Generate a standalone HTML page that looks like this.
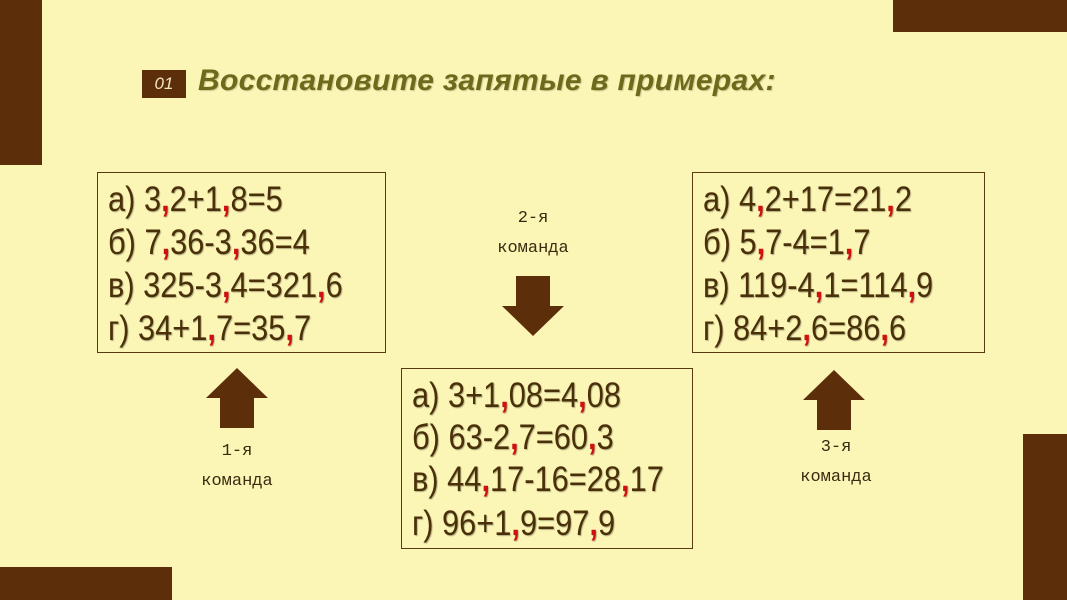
<!DOCTYPE html>
<html><head><meta charset="utf-8"><style>
body{margin:0;width:1067px;height:600px;background:#fcf6b6;position:relative;overflow:hidden;font-family:"Liberation Sans",sans-serif}
.b{position:absolute;background:#5c2e0a}
.box{position:absolute;border:1.5px solid #5a3a10;box-sizing:border-box}
.ln{position:absolute;left:10px;font-family:"Liberation Sans",sans-serif;font-size:35px;line-height:40px;color:#4a3008;text-shadow:1px 1px 1px rgba(0,0,0,0.3);white-space:nowrap;transform:scaleX(0.88);transform-origin:left center}
.ln i{font-style:normal;font-weight:bold;color:#d01010}
.lab{position:absolute;font-family:"Liberation Mono",monospace;font-size:17px;color:#3a2a10;text-align:center;width:120px;line-height:30px}
</style></head><body>
<div class="b" style="left:0;top:0;width:42px;height:165px"></div>
<div class="b" style="left:893px;top:0;width:174px;height:32px"></div>
<div class="b" style="left:0;top:567px;width:172px;height:33px"></div>
<div class="b" style="left:1023px;top:434px;width:44px;height:166px"></div>
<div class="b" style="left:142px;top:70px;width:44px;height:28px;color:#f0e6c0;font-style:italic;font-size:17px;text-align:center;line-height:28px">01</div>
<div style="position:absolute;left:198px;top:64px;font-size:30px;font-style:italic;font-weight:bold;color:#6e6a1c;letter-spacing:0.3px;text-shadow:1px 1px 1px rgba(0,0,0,0.2)">Восстановите запятые в примерах:</div>

<div class="box" style="left:97px;top:172px;width:289px;height:181px">
<div class="ln" style="top:7px">а) 3<i>,</i>2+1<i>,</i>8=5</div>
<div class="ln" style="top:50px">б) 7<i>,</i>36-3<i>,</i>36=4</div>
<div class="ln" style="top:93px">в) 325-3<i>,</i>4=321<i>,</i>6</div>
<div class="ln" style="top:136px">г) 34+1<i>,</i>7=35<i>,</i>7</div>
</div>
<div class="box" style="left:401px;top:368px;width:292px;height:181px">
<div class="ln" style="top:7px">а) 3+1<i>,</i>08=4<i>,</i>08</div>
<div class="ln" style="top:49px">б) 63-2<i>,</i>7=60<i>,</i>3</div>
<div class="ln" style="top:91px">в) 44<i>,</i>17-16=28<i>,</i>17</div>
<div class="ln" style="top:135px">г) 96+1<i>,</i>9=97<i>,</i>9</div>
</div>
<div class="box" style="left:692px;top:172px;width:293px;height:181px">
<div class="ln" style="top:7px">а) 4<i>,</i>2+17=21<i>,</i>2</div>
<div class="ln" style="top:50px">б) 5<i>,</i>7-4=1<i>,</i>7</div>
<div class="ln" style="top:93px">в) 119-4<i>,</i>1=114<i>,</i>9</div>
<div class="ln" style="top:136px">г) 84+2<i>,</i>6=86<i>,</i>6</div>
</div>

<svg style="position:absolute;left:0;top:0" width="1067" height="600">
<polygon fill="#5c2e0a" points="516,276 550,276 550,306 564,306 533,336 502,306 516,306"/>
<polygon fill="#5c2e0a" points="237,368 268,398 254,398 254,428 220,428 220,398 206,398"/>
<polygon fill="#5c2e0a" points="834,370 865,400 851,400 851,430 817,430 817,400 803,400"/>
</svg>
<div class="lab" style="left:473px;top:204px">2-я<br>команда</div>
<div class="lab" style="left:177px;top:437px">1-я<br>команда</div>
<div class="lab" style="left:776px;top:433px">3-я<br>команда</div>
</body></html>
